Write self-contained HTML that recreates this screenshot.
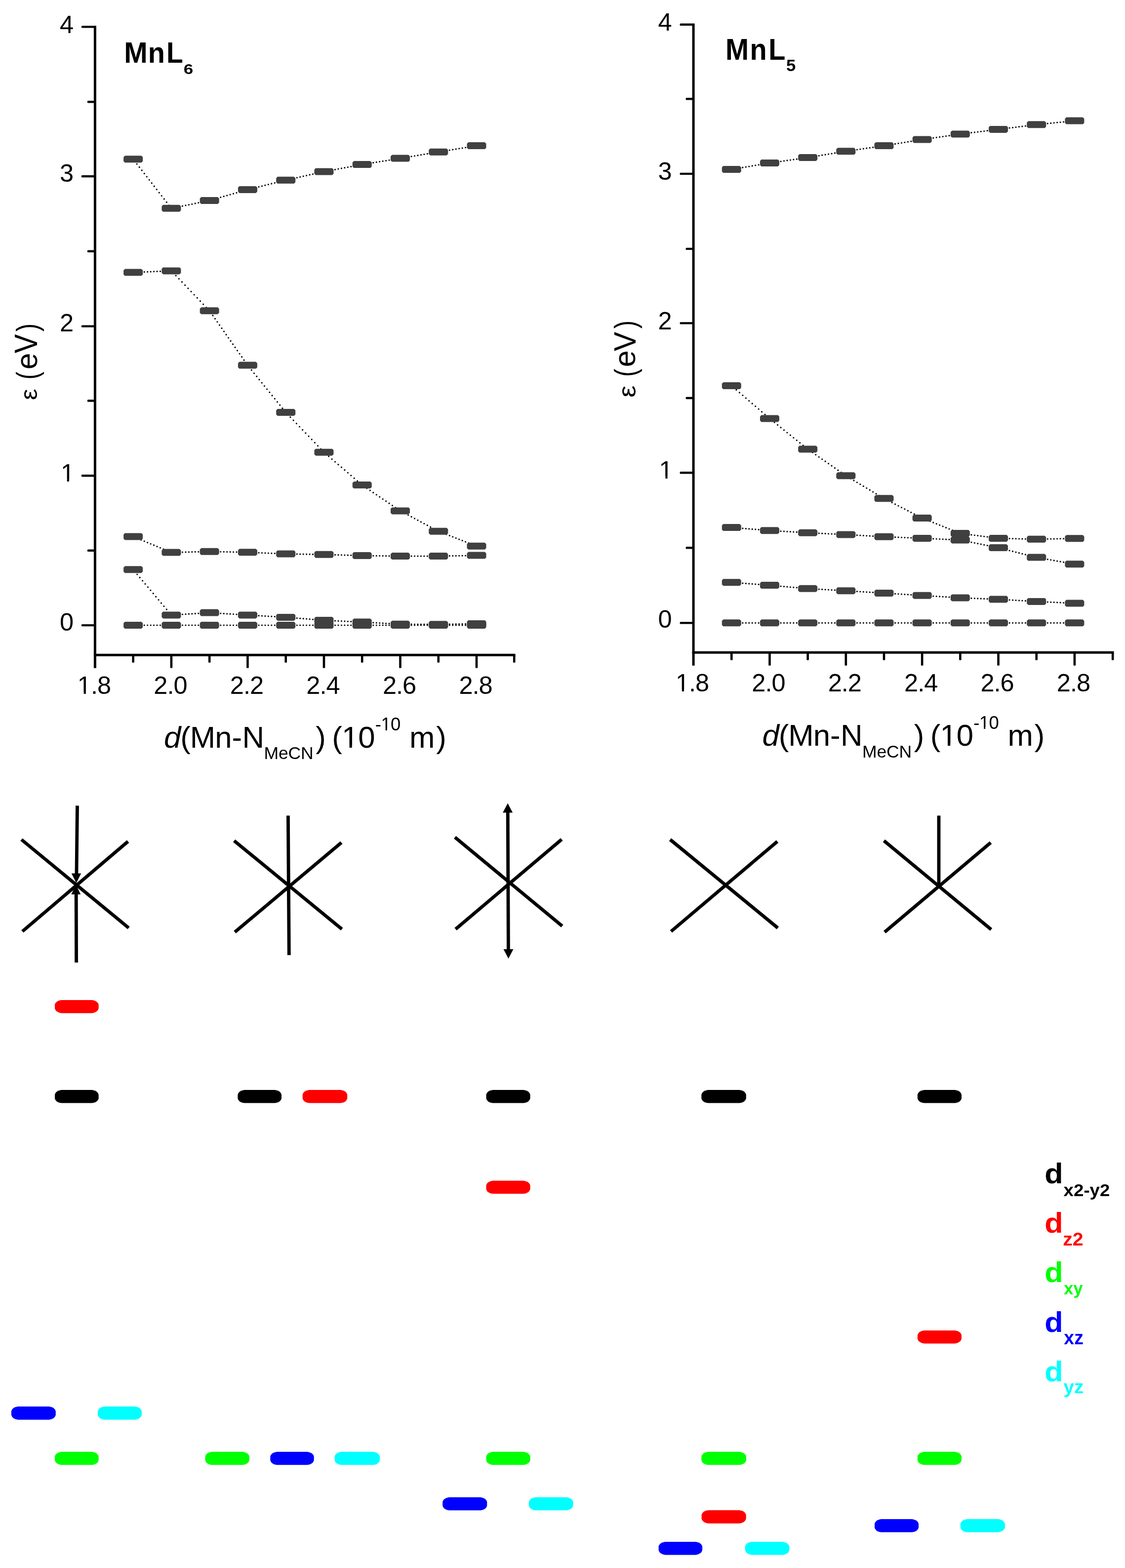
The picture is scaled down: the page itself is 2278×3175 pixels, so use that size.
<!DOCTYPE html>
<html lang="en">
<head>
<meta charset="utf-8">
<title>d-orbital energies of MnL6 and MnL5</title>
<style>
html, body { margin: 0; padding: 0; background: #ffffff; }
body { width: 2278px; height: 3175px; overflow: hidden; }
svg { display: block; }
text { font-family: "Liberation Sans", sans-serif; font-kerning: none; }
</style>
</head>
<body>
<svg width="2278" height="3175" viewBox="0 0 2278 3175" role="img" aria-label="d-orbital energy diagrams for MnL6 and MnL5">
<rect x="0" y="0" width="2278" height="3175" fill="#ffffff"/>
<g stroke="#000" stroke-width="3.2" stroke-linecap="round">
<line x1="269.66" y1="322.3" x2="346.92" y2="421.8" stroke-dasharray="0 8.17" stroke-dashoffset="-4.08"/>
<line x1="346.92" y1="421.8" x2="424.18" y2="406" stroke-dasharray="0 6.58" stroke-dashoffset="-3.29"/>
<line x1="424.18" y1="406" x2="501.44" y2="383.9" stroke-dasharray="0 6.71" stroke-dashoffset="-3.35"/>
<line x1="501.44" y1="383.9" x2="578.7" y2="364.8" stroke-dasharray="0 6.64" stroke-dashoffset="-3.32"/>
<line x1="578.7" y1="364.8" x2="655.96" y2="347.5" stroke-dasharray="0 6.61" stroke-dashoffset="-3.30"/>
<line x1="655.96" y1="347.5" x2="733.22" y2="333.1" stroke-dasharray="0 6.56" stroke-dashoffset="-3.28"/>
<line x1="733.22" y1="333.1" x2="810.48" y2="320.6" stroke-dasharray="0 6.53" stroke-dashoffset="-3.27"/>
<line x1="810.48" y1="320.6" x2="887.74" y2="307.7" stroke-dasharray="0 6.54" stroke-dashoffset="-3.27"/>
<line x1="887.74" y1="307.7" x2="965" y2="295.1" stroke-dasharray="0 6.54" stroke-dashoffset="-3.27"/>
<line x1="269.66" y1="551.6" x2="346.92" y2="548.4" stroke-dasharray="0 6.46" stroke-dashoffset="-3.23"/>
<line x1="346.92" y1="548.4" x2="424.18" y2="629.2" stroke-dasharray="0 8.92" stroke-dashoffset="-4.46"/>
<line x1="424.18" y1="629.2" x2="501.44" y2="739.6" stroke-dasharray="0 7.87" stroke-dashoffset="-3.94"/>
<line x1="501.44" y1="739.6" x2="578.7" y2="835" stroke-dasharray="0 8.30" stroke-dashoffset="-4.15"/>
<line x1="578.7" y1="835" x2="655.96" y2="915.7" stroke-dasharray="0 8.93" stroke-dashoffset="-4.46"/>
<line x1="655.96" y1="915.7" x2="733.22" y2="982.1" stroke-dasharray="0 8.50" stroke-dashoffset="-4.25"/>
<line x1="733.22" y1="982.1" x2="810.48" y2="1034.4" stroke-dasharray="0 7.79" stroke-dashoffset="-3.89"/>
<line x1="810.48" y1="1034.4" x2="887.74" y2="1075.7" stroke-dasharray="0 7.31" stroke-dashoffset="-3.66"/>
<line x1="887.74" y1="1075.7" x2="965" y2="1105.8" stroke-dasharray="0 6.92" stroke-dashoffset="-3.46"/>
<line x1="269.66" y1="1086.5" x2="346.92" y2="1118.6" stroke-dasharray="0 6.98" stroke-dashoffset="-3.49"/>
<line x1="346.92" y1="1118.6" x2="424.18" y2="1116.8" stroke-dasharray="0 6.45" stroke-dashoffset="-3.23"/>
<line x1="424.18" y1="1116.8" x2="501.44" y2="1118.3" stroke-dasharray="0 6.45" stroke-dashoffset="-3.23"/>
<line x1="501.44" y1="1118.3" x2="578.7" y2="1121.5" stroke-dasharray="0 6.46" stroke-dashoffset="-3.23"/>
<line x1="578.7" y1="1121.5" x2="655.96" y2="1122.8" stroke-dasharray="0 6.45" stroke-dashoffset="-3.23"/>
<line x1="655.96" y1="1122.8" x2="733.22" y2="1125" stroke-dasharray="0 6.45" stroke-dashoffset="-3.23"/>
<line x1="733.22" y1="1125" x2="810.48" y2="1126.1" stroke-dasharray="0 6.45" stroke-dashoffset="-3.23"/>
<line x1="810.48" y1="1126.1" x2="887.74" y2="1126.1" stroke-dasharray="0 6.45" stroke-dashoffset="-3.23"/>
<line x1="887.74" y1="1126.1" x2="965" y2="1124.6" stroke-dasharray="0 6.45" stroke-dashoffset="-3.23"/>
<line x1="269.66" y1="1153.3" x2="346.92" y2="1245.4" stroke-dasharray="0 8.42" stroke-dashoffset="-4.21"/>
<line x1="346.92" y1="1245.4" x2="424.18" y2="1240.6" stroke-dasharray="0 6.46" stroke-dashoffset="-3.23"/>
<line x1="424.18" y1="1240.6" x2="501.44" y2="1245.4" stroke-dasharray="0 6.46" stroke-dashoffset="-3.23"/>
<line x1="501.44" y1="1245.4" x2="578.7" y2="1249.9" stroke-dasharray="0 6.46" stroke-dashoffset="-3.23"/>
<line x1="578.7" y1="1249.9" x2="655.96" y2="1256" stroke-dasharray="0 6.47" stroke-dashoffset="-3.24"/>
<line x1="655.96" y1="1256" x2="733.22" y2="1259.6" stroke-dasharray="0 6.46" stroke-dashoffset="-3.23"/>
<line x1="733.22" y1="1259.6" x2="810.48" y2="1263.8" stroke-dasharray="0 6.46" stroke-dashoffset="-3.23"/>
<line x1="810.48" y1="1263.8" x2="887.74" y2="1264.3" stroke-dasharray="0 6.45" stroke-dashoffset="-3.23"/>
<line x1="887.74" y1="1264.3" x2="965" y2="1262.9" stroke-dasharray="0 6.45" stroke-dashoffset="-3.23"/>
<line x1="269.66" y1="1266" x2="346.92" y2="1266" stroke-dasharray="0 6.45" stroke-dashoffset="-3.23"/>
<line x1="346.92" y1="1266" x2="424.18" y2="1266" stroke-dasharray="0 6.45" stroke-dashoffset="-3.23"/>
<line x1="424.18" y1="1266" x2="501.44" y2="1266" stroke-dasharray="0 6.45" stroke-dashoffset="-3.23"/>
<line x1="501.44" y1="1266" x2="578.7" y2="1266" stroke-dasharray="0 6.45" stroke-dashoffset="-3.23"/>
<line x1="578.7" y1="1266" x2="655.96" y2="1266" stroke-dasharray="0 6.45" stroke-dashoffset="-3.23"/>
<line x1="655.96" y1="1266" x2="733.22" y2="1266" stroke-dasharray="0 6.45" stroke-dashoffset="-3.23"/>
<line x1="733.22" y1="1266" x2="810.48" y2="1266" stroke-dasharray="0 6.45" stroke-dashoffset="-3.23"/>
<line x1="810.48" y1="1266" x2="887.74" y2="1266" stroke-dasharray="0 6.45" stroke-dashoffset="-3.23"/>
<line x1="887.74" y1="1266" x2="965" y2="1266" stroke-dasharray="0 6.45" stroke-dashoffset="-3.23"/>
</g>
<g fill="#404040" stroke="#404040" stroke-width="2.4" stroke-linejoin="round">
<path d="M253.46,316.5H285.86L287.96,318.6V326L285.86,328.1H253.46L251.36,326V318.6Z"/>
<path d="M330.72,416H363.12L365.22,418.1V425.5L363.12,427.6H330.72L328.62,425.5V418.1Z"/>
<path d="M407.98,400.2H440.38L442.48,402.3V409.7L440.38,411.8H407.98L405.88,409.7V402.3Z"/>
<path d="M485.24,378.1H517.64L519.74,380.2V387.6L517.64,389.7H485.24L483.14,387.6V380.2Z"/>
<path d="M562.5,359H594.9L597,361.1V368.5L594.9,370.6H562.5L560.4,368.5V361.1Z"/>
<path d="M639.76,341.7H672.16L674.26,343.8V351.2L672.16,353.3H639.76L637.66,351.2V343.8Z"/>
<path d="M717.02,327.3H749.42L751.52,329.4V336.8L749.42,338.9H717.02L714.92,336.8V329.4Z"/>
<path d="M794.28,314.8H826.68L828.78,316.9V324.3L826.68,326.4H794.28L792.18,324.3V316.9Z"/>
<path d="M871.54,301.9H903.94L906.04,304V311.4L903.94,313.5H871.54L869.44,311.4V304Z"/>
<path d="M948.8,289.3H981.2L983.3,291.4V298.8L981.2,300.9H948.8L946.7,298.8V291.4Z"/>
<path d="M253.46,545.8H285.86L287.96,547.9V555.3L285.86,557.4H253.46L251.36,555.3V547.9Z"/>
<path d="M330.72,542.6H363.12L365.22,544.7V552.1L363.12,554.2H330.72L328.62,552.1V544.7Z"/>
<path d="M407.98,623.4H440.38L442.48,625.5V632.9L440.38,635H407.98L405.88,632.9V625.5Z"/>
<path d="M485.24,733.8H517.64L519.74,735.9V743.3L517.64,745.4H485.24L483.14,743.3V735.9Z"/>
<path d="M562.5,829.2H594.9L597,831.3V838.7L594.9,840.8H562.5L560.4,838.7V831.3Z"/>
<path d="M639.76,909.9H672.16L674.26,912V919.4L672.16,921.5H639.76L637.66,919.4V912Z"/>
<path d="M717.02,976.3H749.42L751.52,978.4V985.8L749.42,987.9H717.02L714.92,985.8V978.4Z"/>
<path d="M794.28,1028.6H826.68L828.78,1030.7V1038.1L826.68,1040.2H794.28L792.18,1038.1V1030.7Z"/>
<path d="M871.54,1069.9H903.94L906.04,1072V1079.4L903.94,1081.5H871.54L869.44,1079.4V1072Z"/>
<path d="M948.8,1100H981.2L983.3,1102.1V1109.5L981.2,1111.6H948.8L946.7,1109.5V1102.1Z"/>
<path d="M253.46,1080.7H285.86L287.96,1082.8V1090.2L285.86,1092.3H253.46L251.36,1090.2V1082.8Z"/>
<path d="M330.72,1112.8H363.12L365.22,1114.9V1122.3L363.12,1124.4H330.72L328.62,1122.3V1114.9Z"/>
<path d="M407.98,1111H440.38L442.48,1113.1V1120.5L440.38,1122.6H407.98L405.88,1120.5V1113.1Z"/>
<path d="M485.24,1112.5H517.64L519.74,1114.6V1122L517.64,1124.1H485.24L483.14,1122V1114.6Z"/>
<path d="M562.5,1115.7H594.9L597,1117.8V1125.2L594.9,1127.3H562.5L560.4,1125.2V1117.8Z"/>
<path d="M639.76,1117H672.16L674.26,1119.1V1126.5L672.16,1128.6H639.76L637.66,1126.5V1119.1Z"/>
<path d="M717.02,1119.2H749.42L751.52,1121.3V1128.7L749.42,1130.8H717.02L714.92,1128.7V1121.3Z"/>
<path d="M794.28,1120.3H826.68L828.78,1122.4V1129.8L826.68,1131.9H794.28L792.18,1129.8V1122.4Z"/>
<path d="M871.54,1120.3H903.94L906.04,1122.4V1129.8L903.94,1131.9H871.54L869.44,1129.8V1122.4Z"/>
<path d="M948.8,1118.8H981.2L983.3,1120.9V1128.3L981.2,1130.4H948.8L946.7,1128.3V1120.9Z"/>
<path d="M253.46,1147.5H285.86L287.96,1149.6V1157L285.86,1159.1H253.46L251.36,1157V1149.6Z"/>
<path d="M330.72,1239.6H363.12L365.22,1241.7V1249.1L363.12,1251.2H330.72L328.62,1249.1V1241.7Z"/>
<path d="M407.98,1234.8H440.38L442.48,1236.9V1244.3L440.38,1246.4H407.98L405.88,1244.3V1236.9Z"/>
<path d="M485.24,1239.6H517.64L519.74,1241.7V1249.1L517.64,1251.2H485.24L483.14,1249.1V1241.7Z"/>
<path d="M562.5,1244.1H594.9L597,1246.2V1253.6L594.9,1255.7H562.5L560.4,1253.6V1246.2Z"/>
<path d="M639.76,1250.2H672.16L674.26,1252.3V1259.7L672.16,1261.8H639.76L637.66,1259.7V1252.3Z"/>
<path d="M717.02,1253.8H749.42L751.52,1255.9V1263.3L749.42,1265.4H717.02L714.92,1263.3V1255.9Z"/>
<path d="M794.28,1258H826.68L828.78,1260.1V1267.5L826.68,1269.6H794.28L792.18,1267.5V1260.1Z"/>
<path d="M871.54,1258.5H903.94L906.04,1260.6V1268L903.94,1270.1H871.54L869.44,1268V1260.6Z"/>
<path d="M948.8,1257.1H981.2L983.3,1259.2V1266.6L981.2,1268.7H948.8L946.7,1266.6V1259.2Z"/>
<path d="M253.46,1260.2H285.86L287.96,1262.3V1269.7L285.86,1271.8H253.46L251.36,1269.7V1262.3Z"/>
<path d="M330.72,1260.2H363.12L365.22,1262.3V1269.7L363.12,1271.8H330.72L328.62,1269.7V1262.3Z"/>
<path d="M407.98,1260.2H440.38L442.48,1262.3V1269.7L440.38,1271.8H407.98L405.88,1269.7V1262.3Z"/>
<path d="M485.24,1260.2H517.64L519.74,1262.3V1269.7L517.64,1271.8H485.24L483.14,1269.7V1262.3Z"/>
<path d="M562.5,1260.2H594.9L597,1262.3V1269.7L594.9,1271.8H562.5L560.4,1269.7V1262.3Z"/>
<path d="M639.76,1260.2H672.16L674.26,1262.3V1269.7L672.16,1271.8H639.76L637.66,1269.7V1262.3Z"/>
<path d="M717.02,1260.2H749.42L751.52,1262.3V1269.7L749.42,1271.8H717.02L714.92,1269.7V1262.3Z"/>
<path d="M794.28,1260.2H826.68L828.78,1262.3V1269.7L826.68,1271.8H794.28L792.18,1269.7V1262.3Z"/>
<path d="M871.54,1260.2H903.94L906.04,1262.3V1269.7L903.94,1271.8H871.54L869.44,1269.7V1262.3Z"/>
<path d="M948.8,1260.2H981.2L983.3,1262.3V1269.7L981.2,1271.8H948.8L946.7,1269.7V1262.3Z"/>
</g>
<rect x="189.9" y="52.1" width="5" height="1300.7" fill="#000"/>
<rect x="189.9" y="1323.8" width="853.6" height="5" fill="#000"/>
<rect x="164.9" y="1263.9" width="26" height="4.4" rx="1.5" fill="#000"/>
<text x="120.91" y="1277" font-size="50.5" letter-spacing="0.0">0</text>
<rect x="176.9" y="1112.5" width="14" height="4.4" rx="1.5" fill="#000"/>
<rect x="164.9" y="961.1" width="26" height="4.4" rx="1.5" fill="#000"/>
<g transform="translate(122.91,974.7)"><clipPath id="c1"><path clip-rule="evenodd" d="M-20,-50.5H48.1V20.2H-20ZM2.35,-4.37H12.85V2H2.35ZM17.01,-4.37H27.12V2H17.01Z"/></clipPath><text x="0" y="0" font-size="50.5" letter-spacing="0.0" clip-path="url(#c1)">1</text></g>
<rect x="176.9" y="809.3" width="14" height="4.4" rx="1.5" fill="#000"/>
<rect x="164.9" y="658.4" width="26" height="4.4" rx="1.5" fill="#000"/>
<text x="120.91" y="670.8" font-size="50.5" letter-spacing="0.0">2</text>
<rect x="176.9" y="506.6" width="14" height="4.4" rx="1.5" fill="#000"/>
<rect x="164.9" y="354.8" width="26" height="4.4" rx="1.5" fill="#000"/>
<text x="120.91" y="368.1" font-size="50.5" letter-spacing="0.0">3</text>
<rect x="176.9" y="204.1" width="14" height="4.4" rx="1.5" fill="#000"/>
<rect x="164.9" y="52.2" width="26" height="4.4" rx="1.5" fill="#000"/>
<text x="120.91" y="66.6" font-size="50.5" letter-spacing="0.0">4</text>
<rect x="267.36" y="1326.3" width="4.6" height="15.5" rx="1.5" fill="#000"/>
<rect x="344.62" y="1326.3" width="4.6" height="26.5" rx="1.5" fill="#000"/>
<rect x="421.88" y="1326.3" width="4.6" height="15.5" rx="1.5" fill="#000"/>
<rect x="499.14" y="1326.3" width="4.6" height="26.5" rx="1.5" fill="#000"/>
<rect x="576.4" y="1326.3" width="4.6" height="15.5" rx="1.5" fill="#000"/>
<rect x="653.66" y="1326.3" width="4.6" height="26.5" rx="1.5" fill="#000"/>
<rect x="730.92" y="1326.3" width="4.6" height="15.5" rx="1.5" fill="#000"/>
<rect x="808.18" y="1326.3" width="4.6" height="26.5" rx="1.5" fill="#000"/>
<rect x="885.44" y="1326.3" width="4.6" height="15.5" rx="1.5" fill="#000"/>
<rect x="962.7" y="1326.3" width="4.6" height="26.5" rx="1.5" fill="#000"/>
<rect x="1038.9" y="1326.3" width="4.6" height="15.5" rx="1.5" fill="#000"/>
<g transform="translate(156.8,1404.8)"><clipPath id="c2"><path clip-rule="evenodd" d="M-20,-50.5H87.2V20.2H-20ZM2.35,-4.37H12.85V2H2.35ZM17.01,-4.37H27.12V2H17.01Z"/></clipPath><text x="0" y="0" font-size="50.5" letter-spacing="-1.0" clip-path="url(#c2)">1.8</text></g>
<text x="311.32" y="1404.8" font-size="50.5" letter-spacing="-1.0">2.0</text>
<text x="465.84" y="1404.8" font-size="50.5" letter-spacing="-1.0">2.2</text>
<text x="620.36" y="1404.8" font-size="50.5" letter-spacing="-1.0">2.4</text>
<text x="774.88" y="1404.8" font-size="50.5" letter-spacing="-1.0">2.6</text>
<text x="929.4" y="1404.8" font-size="50.5" letter-spacing="-1.0">2.8</text>
<text font-weight="bold"><tspan x="251.19" y="126.90" font-size="59.86" textLength="47.50" lengthAdjust="spacingAndGlyphs">M</tspan><tspan x="299.87" y="126.90" font-size="59.81" textLength="34.13" lengthAdjust="spacingAndGlyphs">n</tspan><tspan x="337.00" y="126.90" font-size="59.86" textLength="33.80" lengthAdjust="spacingAndGlyphs">L</tspan><tspan x="371.77" y="149.80" font-size="30.28" textLength="19.49" lengthAdjust="spacingAndGlyphs">6</tspan></text>
<clipPath id="c3"><path clip-rule="evenodd" d="M302,1424H933V1564H302ZM695.10,1508.39H707.57V1515.60H695.10ZM712.72,1508.39H724.70V1515.60H712.72ZM772.67,1475.77H780.71V1481.10H772.67ZM783.64,1475.77H791.40V1481.10H783.64Z"/></clipPath><text xml:space="preserve" clip-path="url(#c3)"><tspan x="332" y="1513.6" font-size="61.7" letter-spacing="-1.0" font-style="italic">d</tspan><tspan x="365.31" y="1513.6" font-size="61.7" letter-spacing="-1.0">(Mn</tspan><tspan x="469.57" y="1513.6" font-size="61.7" letter-spacing="-1.0">-</tspan><tspan x="490.52" y="1513.6" font-size="61.7" letter-spacing="-1.0">N</tspan><tspan x="534.58" y="1537.2" font-size="35.5" letter-spacing="-0.15">MeCN</tspan><tspan x="639.37" y="1513.6" font-size="61.7" letter-spacing="-1.0">) </tspan><tspan x="672.35" y="1513.6" font-size="61.7" letter-spacing="-1.0">(10</tspan><tspan x="759.83" y="1479.1" font-size="36.5" letter-spacing="-0.6">-10</tspan><tspan x="812.98" y="1513.6" font-size="61.7" letter-spacing="-1.0"> m</tspan><tspan x="883.32" y="1513.6" font-size="61.7" letter-spacing="-1.0">)</tspan></text>
<text transform="translate(75.7,0) rotate(-90)" xml:space="preserve"><tspan x="-810.20" y="-0.89" font-size="48.73" textLength="37.29" lengthAdjust="spacingAndGlyphs">ε </tspan><tspan x="-768.55" y="0.02" font-size="61.82" textLength="15.83" lengthAdjust="spacingAndGlyphs">(</tspan><tspan x="-748.00" y="-0.62" font-size="61.64" textLength="33.37" lengthAdjust="spacingAndGlyphs">e</tspan><tspan x="-715.29" y="-0.40" font-size="64.35" textLength="38.50" lengthAdjust="spacingAndGlyphs">V</tspan><tspan x="-671.25" y="0.02" font-size="61.82" textLength="16.34" lengthAdjust="spacingAndGlyphs">)</tspan></text>
<g stroke="#000" stroke-width="3.2" stroke-linecap="round">
<line x1="1481.28" y1="343" x2="1558.46" y2="330" stroke-dasharray="0 6.54" stroke-dashoffset="-3.27"/>
<line x1="1558.46" y1="330" x2="1635.64" y2="319" stroke-dasharray="0 6.52" stroke-dashoffset="-3.26"/>
<line x1="1635.64" y1="319" x2="1712.82" y2="306.3" stroke-dasharray="0 6.54" stroke-dashoffset="-3.27"/>
<line x1="1712.82" y1="306.3" x2="1790" y2="295.1" stroke-dasharray="0 6.52" stroke-dashoffset="-3.26"/>
<line x1="1790" y1="295.1" x2="1867.18" y2="282.5" stroke-dasharray="0 6.54" stroke-dashoffset="-3.27"/>
<line x1="1867.18" y1="282.5" x2="1944.36" y2="271.5" stroke-dasharray="0 6.52" stroke-dashoffset="-3.26"/>
<line x1="1944.36" y1="271.5" x2="2021.54" y2="261.9" stroke-dasharray="0 6.50" stroke-dashoffset="-3.25"/>
<line x1="2021.54" y1="261.9" x2="2098.72" y2="252.3" stroke-dasharray="0 6.50" stroke-dashoffset="-3.25"/>
<line x1="2098.72" y1="252.3" x2="2175.9" y2="244.6" stroke-dasharray="0 6.48" stroke-dashoffset="-3.24"/>
<line x1="1481.28" y1="781.1" x2="1558.46" y2="847.5" stroke-dasharray="0 8.51" stroke-dashoffset="-4.25"/>
<line x1="1558.46" y1="847.5" x2="1635.64" y2="909.5" stroke-dasharray="0 8.27" stroke-dashoffset="-4.14"/>
<line x1="1635.64" y1="909.5" x2="1712.82" y2="963.3" stroke-dasharray="0 7.86" stroke-dashoffset="-3.93"/>
<line x1="1712.82" y1="963.3" x2="1790" y2="1009.3" stroke-dasharray="0 7.51" stroke-dashoffset="-3.75"/>
<line x1="1790" y1="1009.3" x2="1867.18" y2="1049" stroke-dasharray="0 7.25" stroke-dashoffset="-3.63"/>
<line x1="1867.18" y1="1049" x2="1944.36" y2="1080" stroke-dasharray="0 6.95" stroke-dashoffset="-3.48"/>
<line x1="1944.36" y1="1080" x2="2021.54" y2="1090" stroke-dasharray="0 6.50" stroke-dashoffset="-3.25"/>
<line x1="2021.54" y1="1090" x2="2098.72" y2="1091.8" stroke-dasharray="0 6.45" stroke-dashoffset="-3.23"/>
<line x1="2098.72" y1="1091.8" x2="2175.9" y2="1090.3" stroke-dasharray="0 6.45" stroke-dashoffset="-3.23"/>
<line x1="1481.28" y1="1068.1" x2="1558.46" y2="1074.2" stroke-dasharray="0 6.47" stroke-dashoffset="-3.24"/>
<line x1="1558.46" y1="1074.2" x2="1635.64" y2="1078.8" stroke-dasharray="0 6.46" stroke-dashoffset="-3.23"/>
<line x1="1635.64" y1="1078.8" x2="1712.82" y2="1082.4" stroke-dasharray="0 6.46" stroke-dashoffset="-3.23"/>
<line x1="1712.82" y1="1082.4" x2="1790" y2="1086.8" stroke-dasharray="0 6.46" stroke-dashoffset="-3.23"/>
<line x1="1790" y1="1086.8" x2="1867.18" y2="1089.9" stroke-dasharray="0 6.46" stroke-dashoffset="-3.23"/>
<line x1="1867.18" y1="1089.9" x2="1944.36" y2="1093.5" stroke-dasharray="0 6.46" stroke-dashoffset="-3.23"/>
<line x1="1944.36" y1="1093.5" x2="2021.54" y2="1109.1" stroke-dasharray="0 6.58" stroke-dashoffset="-3.29"/>
<line x1="2021.54" y1="1109.1" x2="2098.72" y2="1128.6" stroke-dasharray="0 6.65" stroke-dashoffset="-3.33"/>
<line x1="2098.72" y1="1128.6" x2="2175.9" y2="1142.3" stroke-dasharray="0 6.55" stroke-dashoffset="-3.28"/>
<line x1="1481.28" y1="1179.2" x2="1558.46" y2="1185.1" stroke-dasharray="0 6.47" stroke-dashoffset="-3.23"/>
<line x1="1558.46" y1="1185.1" x2="1635.64" y2="1191.8" stroke-dasharray="0 6.47" stroke-dashoffset="-3.24"/>
<line x1="1635.64" y1="1191.8" x2="1712.82" y2="1196.2" stroke-dasharray="0 6.46" stroke-dashoffset="-3.23"/>
<line x1="1712.82" y1="1196.2" x2="1790" y2="1201" stroke-dasharray="0 6.46" stroke-dashoffset="-3.23"/>
<line x1="1790" y1="1201" x2="1867.18" y2="1205.7" stroke-dasharray="0 6.46" stroke-dashoffset="-3.23"/>
<line x1="1867.18" y1="1205.7" x2="1944.36" y2="1210.5" stroke-dasharray="0 6.46" stroke-dashoffset="-3.23"/>
<line x1="1944.36" y1="1210.5" x2="2021.54" y2="1213.5" stroke-dasharray="0 6.45" stroke-dashoffset="-3.23"/>
<line x1="2021.54" y1="1213.5" x2="2098.72" y2="1217.9" stroke-dasharray="0 6.46" stroke-dashoffset="-3.23"/>
<line x1="2098.72" y1="1217.9" x2="2175.9" y2="1221.6" stroke-dasharray="0 6.46" stroke-dashoffset="-3.23"/>
<line x1="1481.28" y1="1261.3" x2="1558.46" y2="1261.3" stroke-dasharray="0 6.45" stroke-dashoffset="-3.23"/>
<line x1="1558.46" y1="1261.3" x2="1635.64" y2="1261.3" stroke-dasharray="0 6.45" stroke-dashoffset="-3.23"/>
<line x1="1635.64" y1="1261.3" x2="1712.82" y2="1261.3" stroke-dasharray="0 6.45" stroke-dashoffset="-3.23"/>
<line x1="1712.82" y1="1261.3" x2="1790" y2="1261.3" stroke-dasharray="0 6.45" stroke-dashoffset="-3.23"/>
<line x1="1790" y1="1261.3" x2="1867.18" y2="1261.3" stroke-dasharray="0 6.45" stroke-dashoffset="-3.23"/>
<line x1="1867.18" y1="1261.3" x2="1944.36" y2="1261.3" stroke-dasharray="0 6.45" stroke-dashoffset="-3.23"/>
<line x1="1944.36" y1="1261.3" x2="2021.54" y2="1261.3" stroke-dasharray="0 6.45" stroke-dashoffset="-3.23"/>
<line x1="2021.54" y1="1261.3" x2="2098.72" y2="1261.3" stroke-dasharray="0 6.45" stroke-dashoffset="-3.23"/>
<line x1="2098.72" y1="1261.3" x2="2175.9" y2="1261.3" stroke-dasharray="0 6.45" stroke-dashoffset="-3.23"/>
</g>
<g fill="#404040" stroke="#404040" stroke-width="2.4" stroke-linejoin="round">
<path d="M1465.08,337.2H1497.48L1499.58,339.3V346.7L1497.48,348.8H1465.08L1462.98,346.7V339.3Z"/>
<path d="M1542.26,324.2H1574.66L1576.76,326.3V333.7L1574.66,335.8H1542.26L1540.16,333.7V326.3Z"/>
<path d="M1619.44,313.2H1651.84L1653.94,315.3V322.7L1651.84,324.8H1619.44L1617.34,322.7V315.3Z"/>
<path d="M1696.62,300.5H1729.02L1731.12,302.6V310L1729.02,312.1H1696.62L1694.52,310V302.6Z"/>
<path d="M1773.8,289.3H1806.2L1808.3,291.4V298.8L1806.2,300.9H1773.8L1771.7,298.8V291.4Z"/>
<path d="M1850.98,276.7H1883.38L1885.48,278.8V286.2L1883.38,288.3H1850.98L1848.88,286.2V278.8Z"/>
<path d="M1928.16,265.7H1960.56L1962.66,267.8V275.2L1960.56,277.3H1928.16L1926.06,275.2V267.8Z"/>
<path d="M2005.34,256.1H2037.74L2039.84,258.2V265.6L2037.74,267.7H2005.34L2003.24,265.6V258.2Z"/>
<path d="M2082.52,246.5H2114.92L2117.02,248.6V256L2114.92,258.1H2082.52L2080.42,256V248.6Z"/>
<path d="M2159.7,238.8H2192.1L2194.2,240.9V248.3L2192.1,250.4H2159.7L2157.6,248.3V240.9Z"/>
<path d="M1465.08,775.3H1497.48L1499.58,777.4V784.8L1497.48,786.9H1465.08L1462.98,784.8V777.4Z"/>
<path d="M1542.26,841.7H1574.66L1576.76,843.8V851.2L1574.66,853.3H1542.26L1540.16,851.2V843.8Z"/>
<path d="M1619.44,903.7H1651.84L1653.94,905.8V913.2L1651.84,915.3H1619.44L1617.34,913.2V905.8Z"/>
<path d="M1696.62,957.5H1729.02L1731.12,959.6V967L1729.02,969.1H1696.62L1694.52,967V959.6Z"/>
<path d="M1773.8,1003.5H1806.2L1808.3,1005.6V1013L1806.2,1015.1H1773.8L1771.7,1013V1005.6Z"/>
<path d="M1850.98,1043.2H1883.38L1885.48,1045.3V1052.7L1883.38,1054.8H1850.98L1848.88,1052.7V1045.3Z"/>
<path d="M1928.16,1074.2H1960.56L1962.66,1076.3V1083.7L1960.56,1085.8H1928.16L1926.06,1083.7V1076.3Z"/>
<path d="M2005.34,1084.2H2037.74L2039.84,1086.3V1093.7L2037.74,1095.8H2005.34L2003.24,1093.7V1086.3Z"/>
<path d="M2082.52,1086H2114.92L2117.02,1088.1V1095.5L2114.92,1097.6H2082.52L2080.42,1095.5V1088.1Z"/>
<path d="M2159.7,1084.5H2192.1L2194.2,1086.6V1094L2192.1,1096.1H2159.7L2157.6,1094V1086.6Z"/>
<path d="M1465.08,1062.3H1497.48L1499.58,1064.4V1071.8L1497.48,1073.9H1465.08L1462.98,1071.8V1064.4Z"/>
<path d="M1542.26,1068.4H1574.66L1576.76,1070.5V1077.9L1574.66,1080H1542.26L1540.16,1077.9V1070.5Z"/>
<path d="M1619.44,1073H1651.84L1653.94,1075.1V1082.5L1651.84,1084.6H1619.44L1617.34,1082.5V1075.1Z"/>
<path d="M1696.62,1076.6H1729.02L1731.12,1078.7V1086.1L1729.02,1088.2H1696.62L1694.52,1086.1V1078.7Z"/>
<path d="M1773.8,1081H1806.2L1808.3,1083.1V1090.5L1806.2,1092.6H1773.8L1771.7,1090.5V1083.1Z"/>
<path d="M1850.98,1084.1H1883.38L1885.48,1086.2V1093.6L1883.38,1095.7H1850.98L1848.88,1093.6V1086.2Z"/>
<path d="M1928.16,1087.7H1960.56L1962.66,1089.8V1097.2L1960.56,1099.3H1928.16L1926.06,1097.2V1089.8Z"/>
<path d="M2005.34,1103.3H2037.74L2039.84,1105.4V1112.8L2037.74,1114.9H2005.34L2003.24,1112.8V1105.4Z"/>
<path d="M2082.52,1122.8H2114.92L2117.02,1124.9V1132.3L2114.92,1134.4H2082.52L2080.42,1132.3V1124.9Z"/>
<path d="M2159.7,1136.5H2192.1L2194.2,1138.6V1146L2192.1,1148.1H2159.7L2157.6,1146V1138.6Z"/>
<path d="M1465.08,1173.4H1497.48L1499.58,1175.5V1182.9L1497.48,1185H1465.08L1462.98,1182.9V1175.5Z"/>
<path d="M1542.26,1179.3H1574.66L1576.76,1181.4V1188.8L1574.66,1190.9H1542.26L1540.16,1188.8V1181.4Z"/>
<path d="M1619.44,1186H1651.84L1653.94,1188.1V1195.5L1651.84,1197.6H1619.44L1617.34,1195.5V1188.1Z"/>
<path d="M1696.62,1190.4H1729.02L1731.12,1192.5V1199.9L1729.02,1202H1696.62L1694.52,1199.9V1192.5Z"/>
<path d="M1773.8,1195.2H1806.2L1808.3,1197.3V1204.7L1806.2,1206.8H1773.8L1771.7,1204.7V1197.3Z"/>
<path d="M1850.98,1199.9H1883.38L1885.48,1202V1209.4L1883.38,1211.5H1850.98L1848.88,1209.4V1202Z"/>
<path d="M1928.16,1204.7H1960.56L1962.66,1206.8V1214.2L1960.56,1216.3H1928.16L1926.06,1214.2V1206.8Z"/>
<path d="M2005.34,1207.7H2037.74L2039.84,1209.8V1217.2L2037.74,1219.3H2005.34L2003.24,1217.2V1209.8Z"/>
<path d="M2082.52,1212.1H2114.92L2117.02,1214.2V1221.6L2114.92,1223.7H2082.52L2080.42,1221.6V1214.2Z"/>
<path d="M2159.7,1215.8H2192.1L2194.2,1217.9V1225.3L2192.1,1227.4H2159.7L2157.6,1225.3V1217.9Z"/>
<path d="M1465.08,1255.5H1497.48L1499.58,1257.6V1265L1497.48,1267.1H1465.08L1462.98,1265V1257.6Z"/>
<path d="M1542.26,1255.5H1574.66L1576.76,1257.6V1265L1574.66,1267.1H1542.26L1540.16,1265V1257.6Z"/>
<path d="M1619.44,1255.5H1651.84L1653.94,1257.6V1265L1651.84,1267.1H1619.44L1617.34,1265V1257.6Z"/>
<path d="M1696.62,1255.5H1729.02L1731.12,1257.6V1265L1729.02,1267.1H1696.62L1694.52,1265V1257.6Z"/>
<path d="M1773.8,1255.5H1806.2L1808.3,1257.6V1265L1806.2,1267.1H1773.8L1771.7,1265V1257.6Z"/>
<path d="M1850.98,1255.5H1883.38L1885.48,1257.6V1265L1883.38,1267.1H1850.98L1848.88,1265V1257.6Z"/>
<path d="M1928.16,1255.5H1960.56L1962.66,1257.6V1265L1960.56,1267.1H1928.16L1926.06,1265V1257.6Z"/>
<path d="M2005.34,1255.5H2037.74L2039.84,1257.6V1265L2037.74,1267.1H2005.34L2003.24,1265V1257.6Z"/>
<path d="M2082.52,1255.5H2114.92L2117.02,1257.6V1265L2114.92,1267.1H2082.52L2080.42,1265V1257.6Z"/>
<path d="M2159.7,1255.5H2192.1L2194.2,1257.6V1265L2192.1,1267.1H2159.7L2157.6,1265V1257.6Z"/>
</g>
<rect x="1401.6" y="47.5" width="5" height="1300.2" fill="#000"/>
<rect x="1401.6" y="1318.7" width="853.9" height="5" fill="#000"/>
<rect x="1376.6" y="1259.2" width="26" height="4.4" rx="1.5" fill="#000"/>
<text x="1332.61" y="1270.9" font-size="50.5" letter-spacing="0.0">0</text>
<rect x="1388.6" y="1107.1" width="14" height="4.4" rx="1.5" fill="#000"/>
<rect x="1376.6" y="955" width="26" height="4.4" rx="1.5" fill="#000"/>
<g transform="translate(1334.61,968.5)"><clipPath id="c4"><path clip-rule="evenodd" d="M-20,-50.5H48.1V20.2H-20ZM2.35,-4.37H12.85V2H2.35ZM17.01,-4.37H27.12V2H17.01Z"/></clipPath><text x="0" y="0" font-size="50.5" letter-spacing="0.0" clip-path="url(#c4)">1</text></g>
<rect x="1388.6" y="803.8" width="14" height="4.4" rx="1.5" fill="#000"/>
<rect x="1376.6" y="652.2" width="26" height="4.4" rx="1.5" fill="#000"/>
<text x="1332.61" y="666.5" font-size="50.5" letter-spacing="0.0">2</text>
<rect x="1388.6" y="501.7" width="14" height="4.4" rx="1.5" fill="#000"/>
<rect x="1376.6" y="349.7" width="26" height="4.4" rx="1.5" fill="#000"/>
<text x="1332.61" y="363.8" font-size="50.5" letter-spacing="0.0">3</text>
<rect x="1388.6" y="198" width="14" height="4.4" rx="1.5" fill="#000"/>
<rect x="1376.6" y="47.6" width="26" height="4.4" rx="1.5" fill="#000"/>
<text x="1332.61" y="61.7" font-size="50.5" letter-spacing="0.0">4</text>
<rect x="1478.98" y="1321.2" width="4.6" height="15.5" rx="1.5" fill="#000"/>
<rect x="1556.16" y="1321.2" width="4.6" height="26.5" rx="1.5" fill="#000"/>
<rect x="1633.34" y="1321.2" width="4.6" height="15.5" rx="1.5" fill="#000"/>
<rect x="1710.52" y="1321.2" width="4.6" height="26.5" rx="1.5" fill="#000"/>
<rect x="1787.7" y="1321.2" width="4.6" height="15.5" rx="1.5" fill="#000"/>
<rect x="1864.88" y="1321.2" width="4.6" height="26.5" rx="1.5" fill="#000"/>
<rect x="1942.06" y="1321.2" width="4.6" height="15.5" rx="1.5" fill="#000"/>
<rect x="2019.24" y="1321.2" width="4.6" height="26.5" rx="1.5" fill="#000"/>
<rect x="2096.42" y="1321.2" width="4.6" height="15.5" rx="1.5" fill="#000"/>
<rect x="2173.6" y="1321.2" width="4.6" height="26.5" rx="1.5" fill="#000"/>
<rect x="2250.9" y="1321.2" width="4.6" height="15.5" rx="1.5" fill="#000"/>
<g transform="translate(1368,1400.3)"><clipPath id="c5"><path clip-rule="evenodd" d="M-20,-50.5H87.2V20.2H-20ZM2.35,-4.37H12.85V2H2.35ZM17.01,-4.37H27.12V2H17.01Z"/></clipPath><text x="0" y="0" font-size="50.5" letter-spacing="-1.0" clip-path="url(#c5)">1.8</text></g>
<text x="1522.36" y="1400.3" font-size="50.5" letter-spacing="-1.0">2.0</text>
<text x="1676.72" y="1400.3" font-size="50.5" letter-spacing="-1.0">2.2</text>
<text x="1831.08" y="1400.3" font-size="50.5" letter-spacing="-1.0">2.4</text>
<text x="1985.44" y="1400.3" font-size="50.5" letter-spacing="-1.0">2.6</text>
<text x="2139.8" y="1400.3" font-size="50.5" letter-spacing="-1.0">2.8</text>
<text font-weight="bold"><tspan x="1468.92" y="120.70" font-size="60.29" textLength="47.14" lengthAdjust="spacingAndGlyphs">M</tspan><tspan x="1518.47" y="120.70" font-size="60.37" textLength="34.13" lengthAdjust="spacingAndGlyphs">n</tspan><tspan x="1556.27" y="120.70" font-size="60.29" textLength="34.16" lengthAdjust="spacingAndGlyphs">L</tspan><tspan x="1591.96" y="143.97" font-size="33.29" textLength="19.24" lengthAdjust="spacingAndGlyphs">5</tspan></text>
<clipPath id="c6"><path clip-rule="evenodd" d="M1514,1420H2144V1560H1514ZM1906.60,1504.79H1919.07V1512.00H1906.60ZM1924.22,1504.79H1936.20V1512.00H1924.22ZM1984.17,1472.17H1992.21V1477.50H1984.17ZM1995.14,1472.17H2002.90V1477.50H1995.14Z"/></clipPath><text xml:space="preserve" clip-path="url(#c6)"><tspan x="1543.5" y="1510" font-size="61.7" letter-spacing="-1.0" font-style="italic">d</tspan><tspan x="1576.81" y="1510" font-size="61.7" letter-spacing="-1.0">(Mn</tspan><tspan x="1681.07" y="1510" font-size="61.7" letter-spacing="-1.0">-</tspan><tspan x="1702.02" y="1510" font-size="61.7" letter-spacing="-1.0">N</tspan><tspan x="1746.08" y="1533.6" font-size="35.5" letter-spacing="-0.15">MeCN</tspan><tspan x="1850.87" y="1510" font-size="61.7" letter-spacing="-1.0">) </tspan><tspan x="1883.85" y="1510" font-size="61.7" letter-spacing="-1.0">(10</tspan><tspan x="1971.33" y="1475.5" font-size="36.5" letter-spacing="-0.6">-10</tspan><tspan x="2024.48" y="1510" font-size="61.7" letter-spacing="-1.0"> m</tspan><tspan x="2094.82" y="1510" font-size="61.7" letter-spacing="-1.0">)</tspan></text>
<text transform="translate(1287,0) rotate(-90)" xml:space="preserve"><tspan x="-805.12" y="-0.50" font-size="49.64" textLength="39.71" lengthAdjust="spacingAndGlyphs">ε </tspan><tspan x="-762.94" y="0.42" font-size="61.82" textLength="16.34" lengthAdjust="spacingAndGlyphs">(</tspan><tspan x="-743.24" y="-0.61" font-size="60.91" textLength="33.95" lengthAdjust="spacingAndGlyphs">e</tspan><tspan x="-710.89" y="-0.40" font-size="63.77" textLength="39.01" lengthAdjust="spacingAndGlyphs">V</tspan><tspan x="-665.15" y="0.42" font-size="61.82" textLength="16.34" lengthAdjust="spacingAndGlyphs">)</tspan></text>
<line x1="43.4" y1="1700" x2="260.6" y2="1879" stroke="#000" stroke-width="6.8"/>
<line x1="45.3" y1="1886" x2="259.2" y2="1703.8" stroke="#000" stroke-width="6.8"/>
<line x1="156.5" y1="1631.4" x2="154.9" y2="1775" stroke="#000" stroke-width="6.8"/>
<polygon points="154.5,1788 144.75,1768.5 164.25,1768.5" fill="#000"/>
<line x1="154.6" y1="1949" x2="154.2" y2="1806" stroke="#000" stroke-width="6.8"/>
<polygon points="153.8,1791.5 163.3,1811 144.3,1811" fill="#000"/>
<line x1="474.1" y1="1702.4" x2="692.3" y2="1881.3" stroke="#000" stroke-width="6.8"/>
<line x1="475.5" y1="1887.4" x2="691.3" y2="1706.1" stroke="#000" stroke-width="6.8"/>
<line x1="583.4" y1="1651.5" x2="585.3" y2="1934" stroke="#000" stroke-width="6.8"/>
<line x1="921.2" y1="1695.4" x2="1138.4" y2="1875.2" stroke="#000" stroke-width="6.8"/>
<line x1="922.6" y1="1881.3" x2="1137.4" y2="1699.6" stroke="#000" stroke-width="6.8"/>
<line x1="1028.2" y1="1640" x2="1029.4" y2="1927" stroke="#000" stroke-width="6.8"/>
<polygon points="1028.1,1626.5 1038.1,1645.5 1018.1,1645.5" fill="#000"/>
<polygon points="1029.5,1941 1019.5,1922 1039.5,1922" fill="#000"/>
<line x1="1357" y1="1700" x2="1575" y2="1879" stroke="#000" stroke-width="6.8"/>
<line x1="1358.8" y1="1886" x2="1574" y2="1703.8" stroke="#000" stroke-width="6.8"/>
<line x1="1789.9" y1="1702.4" x2="2007" y2="1882.2" stroke="#000" stroke-width="6.8"/>
<line x1="1791.3" y1="1887.4" x2="2006.1" y2="1706.1" stroke="#000" stroke-width="6.8"/>
<line x1="1901" y1="1651.5" x2="1901" y2="1794" stroke="#000" stroke-width="6.8"/>
<path d="M124.2,2024.9H186.5Q197.59,2026.4 199.7,2034.3V2042.1Q197.59,2050 186.5,2051.5H124.2Q113.11,2050 111,2042.1V2034.3Q113.11,2026.4 124.2,2024.9Z" fill="#ff0000"/>
<path d="M124.2,2207H186.5Q197.59,2208.5 199.7,2216.4V2224.2Q197.59,2232.1 186.5,2233.6H124.2Q113.11,2232.1 111,2224.2V2216.4Q113.11,2208.5 124.2,2207Z" fill="#000000"/>
<path d="M494.6,2207H556.8Q567.89,2208.5 570,2216.4V2224.2Q567.89,2232.1 556.8,2233.6H494.6Q483.51,2232.1 481.4,2224.2V2216.4Q483.51,2208.5 494.6,2207Z" fill="#000000"/>
<path d="M625.9,2207H690Q701.09,2208.5 703.2,2216.4V2224.2Q701.09,2232.1 690,2233.6H625.9Q614.81,2232.1 612.7,2224.2V2216.4Q614.81,2208.5 625.9,2207Z" fill="#ff0000"/>
<path d="M997.7,2207H1060.4Q1071.49,2208.5 1073.6,2216.4V2224.2Q1071.49,2232.1 1060.4,2233.6H997.7Q986.61,2232.1 984.5,2224.2V2216.4Q986.61,2208.5 997.7,2207Z" fill="#000000"/>
<path d="M1433.5,2207H1497.6Q1508.69,2208.5 1510.8,2216.4V2224.2Q1508.69,2232.1 1497.6,2233.6H1433.5Q1422.41,2232.1 1420.3,2224.2V2216.4Q1422.41,2208.5 1433.5,2207Z" fill="#000000"/>
<path d="M1871.1,2207H1933.8Q1944.89,2208.5 1947,2216.4V2224.2Q1944.89,2232.1 1933.8,2233.6H1871.1Q1860.01,2232.1 1857.9,2224.2V2216.4Q1860.01,2208.5 1871.1,2207Z" fill="#000000"/>
<path d="M997.7,2390.7H1060.4Q1071.49,2392.2 1073.6,2400.1V2407.9Q1071.49,2415.8 1060.4,2417.3H997.7Q986.61,2415.8 984.5,2407.9V2400.1Q986.61,2392.2 997.7,2390.7Z" fill="#ff0000"/>
<path d="M1871.1,2693.9H1933.8Q1944.89,2695.4 1947,2703.3V2711.1Q1944.89,2719 1933.8,2720.5H1871.1Q1860.01,2719 1857.9,2711.1V2703.3Q1860.01,2695.4 1871.1,2693.9Z" fill="#ff0000"/>
<path d="M36.1,2848.1H99.6Q110.69,2849.6 112.8,2857.5V2865.3Q110.69,2873.2 99.6,2874.7H36.1Q25.01,2873.2 22.9,2865.3V2857.5Q25.01,2849.6 36.1,2848.1Z" fill="#0000ff"/>
<path d="M211.2,2848.1H273.7Q284.79,2849.6 286.9,2857.5V2865.3Q284.79,2873.2 273.7,2874.7H211.2Q200.11,2873.2 198,2865.3V2857.5Q200.11,2849.6 211.2,2848.1Z" fill="#00ffff"/>
<path d="M124.2,2939.7H186.5Q197.59,2941.2 199.7,2949.1V2956.9Q197.59,2964.8 186.5,2966.3H124.2Q113.11,2964.8 111,2956.9V2949.1Q113.11,2941.2 124.2,2939.7Z" fill="#00ff00"/>
<path d="M428.7,2939.7H491.7Q502.79,2941.2 504.9,2949.1V2956.9Q502.79,2964.8 491.7,2966.3H428.7Q417.61,2964.8 415.5,2956.9V2949.1Q417.61,2941.2 428.7,2939.7Z" fill="#00ff00"/>
<path d="M560.5,2939.7H622.5Q633.59,2941.2 635.7,2949.1V2956.9Q633.59,2964.8 622.5,2966.3H560.5Q549.41,2964.8 547.3,2956.9V2949.1Q549.41,2941.2 560.5,2939.7Z" fill="#0000ff"/>
<path d="M690.8,2939.7H755.8Q766.89,2941.2 769,2949.1V2956.9Q766.89,2964.8 755.8,2966.3H690.8Q679.71,2964.8 677.6,2956.9V2949.1Q679.71,2941.2 690.8,2939.7Z" fill="#00ffff"/>
<path d="M997.7,2939.7H1060.4Q1071.49,2941.2 1073.6,2949.1V2956.9Q1071.49,2964.8 1060.4,2966.3H997.7Q986.61,2964.8 984.5,2956.9V2949.1Q986.61,2941.2 997.7,2939.7Z" fill="#00ff00"/>
<path d="M1433.5,2939.7H1497.8Q1508.89,2941.2 1511,2949.1V2956.9Q1508.89,2964.8 1497.8,2966.3H1433.5Q1422.41,2964.8 1420.3,2956.9V2949.1Q1422.41,2941.2 1433.5,2939.7Z" fill="#00ff00"/>
<path d="M1871.1,2939.7H1933.8Q1944.89,2941.2 1947,2949.1V2956.9Q1944.89,2964.8 1933.8,2966.3H1871.1Q1860.01,2964.8 1857.9,2956.9V2949.1Q1860.01,2941.2 1871.1,2939.7Z" fill="#00ff00"/>
<path d="M909.4,3031.7H973Q984.09,3033.2 986.2,3041.1V3048.9Q984.09,3056.8 973,3058.3H909.4Q898.31,3056.8 896.2,3048.9V3041.1Q898.31,3033.2 909.4,3031.7Z" fill="#0000ff"/>
<path d="M1084.1,3031.7H1147.3Q1158.39,3033.2 1160.5,3041.1V3048.9Q1158.39,3056.8 1147.3,3058.3H1084.1Q1073.01,3056.8 1070.9,3048.9V3041.1Q1073.01,3033.2 1084.1,3031.7Z" fill="#00ffff"/>
<path d="M1433.8,3058.1H1497.5Q1508.59,3059.6 1510.7,3067.5V3075.3Q1508.59,3083.2 1497.5,3084.7H1433.8Q1422.71,3083.2 1420.6,3075.3V3067.5Q1422.71,3059.6 1433.8,3058.1Z" fill="#ff0000"/>
<path d="M1346.8,3121.9H1408.9Q1419.99,3123.4 1422.1,3131.3V3139.1Q1419.99,3147 1408.9,3148.5H1346.8Q1335.71,3147 1333.6,3139.1V3131.3Q1335.71,3123.4 1346.8,3121.9Z" fill="#0000ff"/>
<path d="M1521.9,3121.9H1585.1Q1596.19,3123.4 1598.3,3131.3V3139.1Q1596.19,3147 1585.1,3148.5H1521.9Q1510.81,3147 1508.7,3139.1V3131.3Q1510.81,3123.4 1521.9,3121.9Z" fill="#00ffff"/>
<path d="M1784.2,3076H1846.9Q1857.99,3077.5 1860.1,3085.4V3093.2Q1857.99,3101.1 1846.9,3102.6H1784.2Q1773.11,3101.1 1771,3093.2V3085.4Q1773.11,3077.5 1784.2,3076Z" fill="#0000ff"/>
<path d="M1958,3076H2021.6Q2032.69,3077.5 2034.8,3085.4V3093.2Q2032.69,3101.1 2021.6,3102.6H1958Q1946.91,3101.1 1944.8,3093.2V3085.4Q1946.91,3077.5 1958,3076Z" fill="#00ffff"/>
<text fill="#000000" font-weight="bold"><tspan x="2115.25" y="2396.33" font-size="56.60" textLength="37.38" lengthAdjust="spacingAndGlyphs">d</tspan><tspan x="2153.62" y="2421.70" font-size="35.71" textLength="93.76" lengthAdjust="spacingAndGlyphs">x2-y2</tspan></text>
<text fill="#ff0000" font-weight="bold"><tspan x="2115.25" y="2496.03" font-size="56.60" textLength="37.38" lengthAdjust="spacingAndGlyphs">d</tspan><tspan x="2152.23" y="2522.10" font-size="36.86" textLength="41.38" lengthAdjust="spacingAndGlyphs">z2</tspan></text>
<text fill="#00ff00" font-weight="bold"><tspan x="2115.25" y="2596.43" font-size="56.60" textLength="37.38" lengthAdjust="spacingAndGlyphs">d</tspan><tspan x="2154.33" y="2621.05" font-size="35.95" textLength="38.12" lengthAdjust="spacingAndGlyphs">xy</tspan></text>
<text fill="#0000ff" font-weight="bold"><tspan x="2115.25" y="2696.83" font-size="56.60" textLength="37.38" lengthAdjust="spacingAndGlyphs">d</tspan><tspan x="2154.31" y="2722.30" font-size="39.06" textLength="39.64" lengthAdjust="spacingAndGlyphs">xz</tspan></text>
<text fill="#00ffff" font-weight="bold"><tspan x="2115.25" y="2797.13" font-size="56.60" textLength="37.38" lengthAdjust="spacingAndGlyphs">d</tspan><tspan x="2153.41" y="2821.45" font-size="36.89" textLength="40.89" lengthAdjust="spacingAndGlyphs">yz</tspan></text>
</svg>
</body>
</html>
